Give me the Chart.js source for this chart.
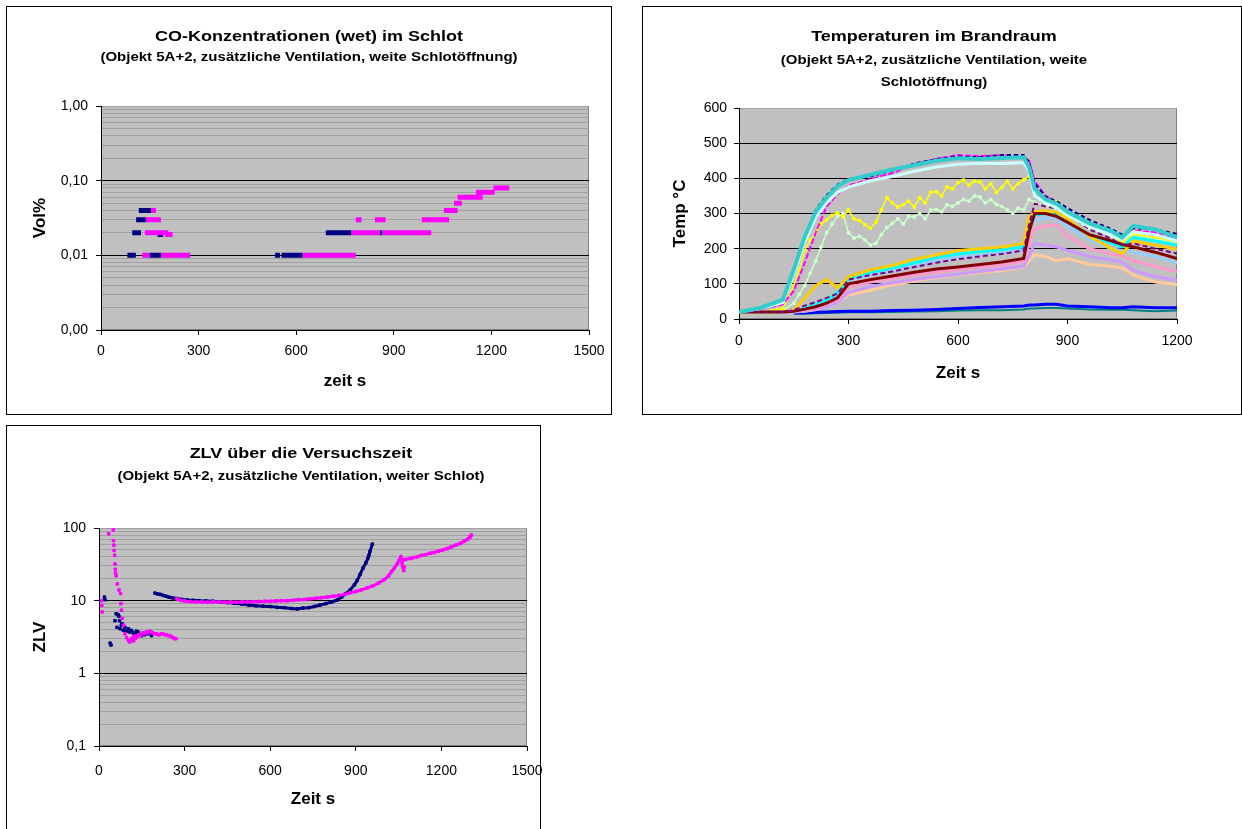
<!DOCTYPE html>
<html>
<head>
<meta charset="utf-8">
<script src="https://cdn.jsdelivr.net/npm/chart.js@4.4.0/dist/chart.umd.min.js"></script>
<style>
  body { margin: 0; width: 1242px; height: 829px; overflow: hidden; background: #fff; position: relative;
         font-family: "Liberation Sans", Arial, sans-serif; }
  .box { position: absolute; border: 1px solid #000; box-sizing: border-box; background: #fff; }
  .box canvas { position: absolute; left: 0; top: 0; }
  .ttl { position: absolute; left: 0; text-align: center; font-weight: bold; white-space: nowrap;
         color: #000; transform: scaleY(0.85); }
  .t1 { font-size: 18px; line-height: 20px; }
  .t2 { font-size: 15px; line-height: 16px; }
</style>
</head>
<body>

<div class="box" style="left:6px;top:6px;width:606px;height:409px">
  <canvas id="co-chart" width="604" height="407"></canvas>
  <div class="ttl t1" style="top:19px;width:604px">CO-Konzentrationen (wet) im Schlot</div>
  <div class="ttl t2" style="top:42px;width:604px">(Objekt 5A+2, zusätzliche Ventilation, weite Schlotöffnung)</div>
</div>

<div class="box" style="left:642px;top:6px;width:600px;height:409px">
  <canvas id="temp-chart" width="598" height="407"></canvas>
  <div class="ttl t1" style="top:19px;width:582px">Temperaturen im Brandraum</div>
  <div class="ttl t2" style="top:45px;width:582px">(Objekt 5A+2, zusätzliche Ventilation, weite</div>
  <div class="ttl t2" style="top:67px;width:582px">Schlotöffnung)</div>
</div>

<div class="box" style="left:6px;top:425px;width:535px;height:420px">
  <canvas id="zlv-chart" width="545" height="418"></canvas>
  <div class="ttl t1" style="top:17px;width:588px">ZLV über die Versuchszeit</div>
  <div class="ttl t2" style="top:42px;width:588px">(Objekt 5A+2, zusätzliche Ventilation, weiter Schlot)</div>
</div>

<script>
// ---------- CO chart: runs of constant reading [start s, end s, Vol%]
const coNavyRuns = [
  [81, 107, 0.01], [150, 185, 0.01], [535, 550, 0.01], [555, 620, 0.01],
  [96, 123, 0.02], [174, 191, 0.019], [691, 770, 0.02], [856, 865, 0.02],
  [108, 138, 0.03], [116, 154, 0.04],
];
const coPinkRuns = [
  [127, 150, 0.01], [185, 274, 0.01], [620, 783, 0.01],
  [135, 207, 0.02], [197, 220, 0.019], [770, 856, 0.02], [865, 1015, 0.02],
  [138, 184, 0.03], [783, 801, 0.03], [842, 875, 0.03], [986, 1070, 0.03],
  [154, 169, 0.04], [1054, 1096, 0.04],
  [1085, 1109, 0.05], [1096, 1173, 0.06], [1153, 1210, 0.07], [1206, 1255, 0.08],
];
const coTickValues = [0.001, 0.01, 0.1, 1];
const coTickLabels = ['0,00', '0,01', '0,10', '1,00'];

// ---------- Temperature chart: shared time base, one array per thermocouple
const tempTimes = [0, 60, 120, 150, 180, 210, 240, 270, 300, 360, 420, 480, 540, 600,
  660, 720, 780, 795, 810, 840, 870, 900, 960, 1020, 1050, 1080, 1140, 1200];
const tempNavy = [20, 30, 48, 125, 225, 310, 352, 382, 398, 405, 422, 442, 455, 462,
  460, 466, 466, 445, 385, 348, 335, 315, 282, 256, 240, 258, 255, 242];
const tempMagenta = [20, 28, 42, 80, 160, 245, 320, 355, 380, 398, 415, 440, 455, 466,
  463, 466, 462, 450, 392, 350, 330, 308, 270, 245, 230, 252, 246, 230];
const tempTeal = [20, 32, 55, 140, 234, 305, 345, 378, 395, 410, 425, 437, 450, 457,
  455, 458, 460, 430, 370, 340, 328, 305, 272, 250, 232, 265, 255, 232];
const tempLightCyan = [20, 30, 47, 125, 218, 290, 330, 360, 375, 393, 405, 420, 432, 440,
  443, 442, 445, 420, 350, 330, 316, 295, 262, 240, 225, 248, 240, 222];
const tempOrange = [20, 20, 20, 25, 60, 95, 112, 88, 120, 140, 152, 170, 182, 195,
  200, 205, 215, 290, 305, 308, 304, 285, 235, 200, 186, 222, 210, 198];
const tempCyan = [20, 20, 20, 22, 30, 42, 55, 75, 115, 133, 145, 160, 175, 185,
  192, 197, 205, 280, 295, 300, 295, 275, 238, 215, 205, 232, 222, 210];
const tempPurple = [20, 20, 20, 25, 38, 48, 60, 72, 112, 125, 135, 148, 160, 170,
  178, 185, 195, 270, 328, 320, 314, 300, 255, 228, 210, 215, 200, 186];
const tempLightBlue = [20, 20, 20, 22, 30, 40, 50, 65, 110, 125, 137, 152, 165, 175,
  182, 188, 195, 260, 280, 288, 285, 262, 225, 200, 195, 190, 178, 160];
const tempDarkRed = [20, 20, 20, 22, 28, 35, 45, 60, 100, 112, 122, 133, 142, 148,
  155, 162, 172, 250, 300, 300, 292, 275, 240, 222, 212, 205, 190, 172];
const tempPink = [20, 20, 20, 21, 25, 32, 42, 55, 90, 105, 115, 125, 133, 140,
  147, 153, 165, 215, 255, 265, 268, 235, 200, 185, 180, 165, 150, 135];
const tempLavender = [20, 20, 20, 20, 23, 28, 35, 48, 75, 92, 103, 112, 120, 127,
  135, 142, 150, 180, 215, 210, 205, 195, 178, 168, 162, 138, 120, 110];
const tempPeach = [20, 20, 20, 20, 22, 26, 35, 48, 68, 82, 97, 108, 118, 125,
  132, 138, 148, 165, 183, 178, 165, 172, 155, 150, 145, 125, 105, 98];
const tempBlue = [null, null, null, 17, 18, 19, 20, 21, 22, 22, 24, 25, 27, 30,
  33, 35, 37, 40, 40, 42, 42, 37, 35, 32, 32, 35, 32, 32];
const tempDarkTeal = [null, null, null, 15, 15, 16, 17, 18, 19, 19, 20, 21, 22, 24,
  25, 25, 27, 30, 30, 31, 31, 30, 27, 26, 26, 25, 22, 24];

// the two noisy sensors are read on a finer time base
const tempNoisyTimes = [0, 60, 120,
  150, 165, 180, 195, 210, 225, 240, 255, 270, 285, 300, 315, 330, 345, 360, 375, 390,
  405, 420, 435, 450, 465, 480, 495, 510, 525, 540, 555, 570, 585, 600, 615, 630, 645,
  660, 675, 690, 705, 720, 735, 750, 765, 780, 795,
  810, 840, 870, 900, 960, 1020, 1050, 1080, 1140, 1200];
const tempYellow = [20, 22, 30,
  95, 140, 195, 225, 245, 270, 282, 295, 302, 290, 310, 285, 280, 268, 258, 275, 310,
  345, 330, 318, 325, 335, 318, 345, 330, 360, 362, 350, 375, 370, 388, 395, 380, 392,
  390, 370, 385, 360, 374, 392, 370, 385, 396, 405,
  365, 346, 334, 305, 268, 240, 215, 242, 232, 220];
const tempPaleGreen = [20, 21, 25,
  45, 70, 95, 130, 165, 205, 245, 270, 292, 300, 245, 230, 235, 225, 210, 215, 240,
  260, 272, 285, 270, 292, 290, 300, 285, 310, 312, 305, 325, 320, 330, 340, 335, 350,
  347, 330, 340, 326, 320, 310, 300, 315, 310, 340,
  332, 322, 312, 292, 258, 236, 216, 236, 228, 214];

// ---------- ZLV chart: [time s, ZLV]
const zlvNavyLoose = [
  [19, 11.2], [21, 10.3], [39, 2.6], [42, 2.45], [56, 5.3], [60, 6.6], [63, 4.3], [67, 6.4],
  [70, 6.1], [72, 5.3], [74, 4.1], [78, 4.6], [81, 4.8], [85, 3.9], [91, 4.3], [96, 3.8],
  [103, 4.1], [108, 3.7], [114, 3.9], [120, 3.6], [126, 3.5], [131, 3.8], [137, 3.7],
  [143, 3.4], [149, 3.3], [160, 3.4], [172, 3.5], [184, 3.3],
];
const zlvNavyCurve = [
  [196, 12.7], [205, 12.4], [215, 12.2], [225, 11.8], [235, 11.5], [245, 11.2], [258, 10.9],
  [272, 10.7], [290, 10.4], [310, 10.2], [330, 10.1], [350, 10.0], [375, 9.9], [400, 9.8],
  [425, 9.6], [450, 9.4], [475, 9.2], [500, 9.0], [525, 8.7], [550, 8.5], [575, 8.4],
  [600, 8.3], [625, 8.1], [650, 8.0], [675, 7.8], [695, 7.7], [715, 7.9], [735, 8.0],
  [755, 8.3], [775, 8.7], [795, 9.1], [815, 9.6], [835, 10.2], [850, 11.2], [865, 12.5],
  [880, 14], [895, 16.5], [905, 19], [915, 23], [925, 28], [935, 33], [942, 38], [946, 42],
  [950, 48], [958, 60],
];
const zlvPinkLoose = [
  [9, 10], [10, 8.6], [11, 7.0], [33, 105], [34, 83], [50, 94], [51, 67], [52, 58], [53, 49],
  [55, 42], [56, 32], [57, 27], [58, 24], [60, 22], [64, 17], [70, 14], [76, 12.5], [77, 9.1],
  [79, 7.4], [81, 5.7], [86, 4.6], [91, 3.5], [97, 3.1], [103, 2.85],
  [107, 2.7], [110, 2.8], [112, 2.9], [115, 3.0], [118, 3.1], [121, 2.8], [124, 3.2],
  [127, 3.0], [130, 3.3], [134, 3.2], [140, 3.4], [146, 3.3], [153, 3.6], [159, 3.5],
  [165, 3.7], [171, 3.6], [177, 3.8], [183, 3.7], [188, 3.6], [194, 3.5], [200, 3.5],
  [206, 3.4], [212, 3.4], [218, 3.5], [224, 3.5], [230, 3.4], [236, 3.4], [242, 3.3],
  [247, 3.3], [253, 3.2], [259, 3.1], [265, 3.0], [270, 3.0],
  [1062, 33], [1064, 30], [1066, 28], [1068, 26], [1070, 29],
];
const zlvPinkCurve = [
  [272, 10.6], [285, 10.1], [300, 9.9], [320, 9.7], [340, 9.6], [360, 9.6], [380, 9.5],
  [400, 9.6], [420, 9.6], [440, 9.5], [460, 9.6], [480, 9.5], [500, 9.6], [520, 9.6],
  [540, 9.7], [560, 9.7], [580, 9.8], [600, 9.8], [620, 9.9], [640, 10.0], [660, 10.0],
  [680, 10.1], [700, 10.3], [720, 10.4], [740, 10.6], [760, 10.8], [780, 11.0], [800, 11.2],
  [820, 11.5], [840, 11.8], [860, 12.2], [880, 12.8], [900, 13.4], [920, 14.1], [940, 15],
  [960, 16], [980, 17.5], [1000, 19.5], [1015, 22], [1025, 25], [1035, 28], [1045, 32],
  [1052, 36], [1058, 40], [1066, 36], [1075, 37],
  [1090, 38], [1100, 39], [1115, 40], [1130, 42], [1145, 43], [1160, 45], [1175, 46],
  [1190, 48], [1205, 50], [1220, 52], [1235, 55], [1250, 58], [1265, 61], [1280, 66],
  [1292, 70], [1300, 75], [1305, 80],
];
const zlvTickValues = [0.1, 1, 10, 100];
const zlvTickLabels = ['0,1', '1', '10', '100'];

Chart.defaults.font.family = '"Liberation Sans", Arial, sans-serif';
Chart.defaults.color = '#000';

const NAVY = '#000080';
const PINK = '#ff00ff';
const TICK_FONT = { size: 14 };

// Grey Excel plot area
const plotBackground = {
  id: 'plotBackground',
  beforeDraw(chart) {
    const { ctx, chartArea: a } = chart;
    ctx.save();
    ctx.fillStyle = '#c0c0c0';
    ctx.fillRect(a.left, a.top, a.right - a.left, a.bottom - a.top);
    ctx.strokeStyle = '#808080';
    ctx.lineWidth = 1;
    ctx.strokeRect(a.left + 0.5, a.top + 0.5, a.right - a.left - 1, a.bottom - a.top - 1);
    ctx.restore();
  },
};

// 1,2,...,9 x every decade between min and max
function decadeGrid(min, max) {
  const values = [];
  for (let d = min; d < max * 0.999; d *= 10) {
    for (let m = 1; m <= 9; m++) values.push(+(m * d).toPrecision(6));
  }
  values.push(max);
  return values;
}

function findTick(list, v) {
  return list.findIndex((d) => Math.abs(d - v) < d * 1e-6);
}

function axisTitle(text, padding) {
  return { display: true, text: text, font: { size: 17, weight: 'bold' }, padding: padding };
}

// Bottom time axis with outside tick marks and no vertical grid
function timeAxis(max, title, labelPadding, titlePadding, height) {
  return {
    type: 'linear',
    min: 0,
    max: max,
    ticks: { stepSize: 300, padding: labelPadding, font: TICK_FONT, maxRotation: 0,
      autoSkip: false, callback: (v) => String(v) },
    grid: { drawOnChartArea: false, tickLength: 5, tickColor: '#000' },
    border: { color: '#000' },
    title: axisTitle(title, { top: 0, bottom: titlePadding }),
    afterFit(scale) {
      scale.height = height;
      scale.paddingLeft = 0;
      scale.paddingRight = 0;
    },
  };
}

// Left log axis with minor grey grid and labels on decades only
function logAxis(min, max, tickValues, tickLabels, title, width) {
  const gridValues = decadeGrid(min, max);
  return {
    type: 'logarithmic',
    min: min,
    max: max,
    afterBuildTicks(scale) {
      scale.ticks = gridValues.map((v) => ({ value: v }));
    },
    ticks: {
      autoSkip: false,
      padding: 8,
      font: TICK_FONT,
      callback: (v) => {
        const i = findTick(tickValues, v);
        return i < 0 ? '' : tickLabels[i];
      },
    },
    grid: {
      tickLength: 5,
      color: (ctx) => {
        const v = ctx.tick.value;
        return findTick(tickValues, v) >= 0 && v < max * 0.999 ? '#000' : '#a0a0a0';
      },
      tickColor: (ctx) => (findTick(tickValues, ctx.tick.value) >= 0 ? '#000' : 'rgba(0,0,0,0)'),
    },
    border: { color: '#000' },
    title: axisTitle(title, { top: 0, bottom: 0 }),
    afterFit(scale) {
      scale.width = width;
    },
  };
}

function baseOptions(padding, scales) {
  return {
    responsive: false,
    animation: false,
    layout: { padding: padding },
    plugins: { legend: { display: false }, tooltip: { enabled: false } },
    scales: scales,
  };
}

// Runs -> line segments separated by gaps
function runDataset(runs, color) {
  const points = [];
  runs.forEach(([start, end, value]) => {
    points.push({ x: start, y: value }, { x: end, y: value }, { x: end, y: null });
  });
  return { data: points, borderColor: color, borderWidth: 5, borderCapStyle: 'butt',
    pointRadius: 0, spanGaps: false };
}

// ---------- CO chart
new Chart(document.getElementById('co-chart'), {
  type: 'line',
  data: { datasets: [runDataset(coPinkRuns, PINK), runDataset(coNavyRuns, NAVY)] },
  options: baseOptions({ left: 23, right: 22, top: 99, bottom: 20 }, {
    x: timeAxis(1500, 'zeit s', 8, 2, 64),
    y: logAxis(0.001, 1, coTickValues, coTickLabels, 'Vol%', 71),
  }),
  plugins: [plotBackground],
});

// ---------- Temperature chart (first entry is drawn on top)
const tempSeries = [
  { values: tempTeal, color: '#33cccc', width: 4 },
  { values: tempLightCyan, color: '#ccffff', width: 3 },
  { values: tempNavy, color: '#000080', width: 2, dash: [4, 3] },
  { values: tempMagenta, color: '#ff00ff', width: 2, dash: [6, 2] },
  { values: tempPurple, color: '#800080', width: 2, dash: [5, 3] },
  { values: tempDarkRed, color: '#800000', width: 3 },
  { values: tempOrange, color: '#ffcc00', width: 3 },
  { values: tempCyan, color: '#00ffff', width: 3 },
  { values: tempLightBlue, color: '#99ccff', width: 3 },
  { values: tempYellow, times: tempNoisyTimes, color: '#ffff00', width: 1.5, points: true },
  { values: tempPaleGreen, times: tempNoisyTimes, color: '#ccffcc', width: 1.5, points: true },
  { values: tempPink, color: '#ff99cc', width: 3 },
  { values: tempLavender, color: '#cc99ff', width: 3 },
  { values: tempPeach, color: '#ffcc99', width: 3 },
  { values: tempBlue, color: '#0000ff', width: 3 },
  { values: tempDarkTeal, color: '#008080', width: 2 },
];

new Chart(document.getElementById('temp-chart'), {
  type: 'line',
  data: {
    datasets: tempSeries.map((s) => ({
      data: (s.times || tempTimes).map((t, i) => ({ x: t, y: s.values[i] })),
      borderColor: s.color,
      backgroundColor: s.color,
      borderWidth: s.width,
      borderDash: s.dash || [],
      pointRadius: s.points ? 1.8 : 0,
      pointStyle: 'rect',
      pointBorderWidth: 1,
      spanGaps: false,
    })),
  },
  options: baseOptions({ left: 27, right: 64, top: 101, bottom: 20 }, {
    x: timeAxis(1200, 'Zeit s', 9, 10, 75),
    y: {
      type: 'linear',
      min: 0,
      max: 600,
      ticks: { stepSize: 100, padding: 7, font: TICK_FONT },
      grid: { tickLength: 5, tickColor: '#000',
        color: (ctx) => (ctx.tick.value >= 600 ? '#a0a0a0' : '#000') },
      border: { color: '#000' },
      title: axisTitle('Temp °C', { top: 0, bottom: 0 }),
      afterFit(scale) {
        scale.width = 69;
      },
    },
  }),
  plugins: [plotBackground],
});

// ---------- ZLV chart
function zlvDataset(points, color, showLine) {
  return {
    type: 'scatter',
    data: points.map(([x, y]) => ({ x: x, y: y })),
    backgroundColor: color,
    borderColor: color,
    pointStyle: 'rect',
    pointRadius: 1.8,
    pointBorderWidth: 1,
    showLine: showLine,
    borderWidth: 3,
  };
}

new Chart(document.getElementById('zlv-chart'), {
  type: 'scatter',
  data: {
    datasets: [
      zlvDataset(zlvPinkLoose, PINK, false),
      zlvDataset(zlvPinkCurve, PINK, true),
      zlvDataset(zlvNavyLoose, NAVY, false),
      zlvDataset(zlvNavyCurve, NAVY, true),
    ],
  },
  options: baseOptions({ left: 23, right: 25, top: 102, bottom: 20 }, {
    x: timeAxis(1500, 'Zeit s', 12, 14, 78),
    y: logAxis(0.1, 100, zlvTickValues, zlvTickLabels, 'ZLV', 69),
  }),
  plugins: [plotBackground],
});
</script>
</body>
</html>
